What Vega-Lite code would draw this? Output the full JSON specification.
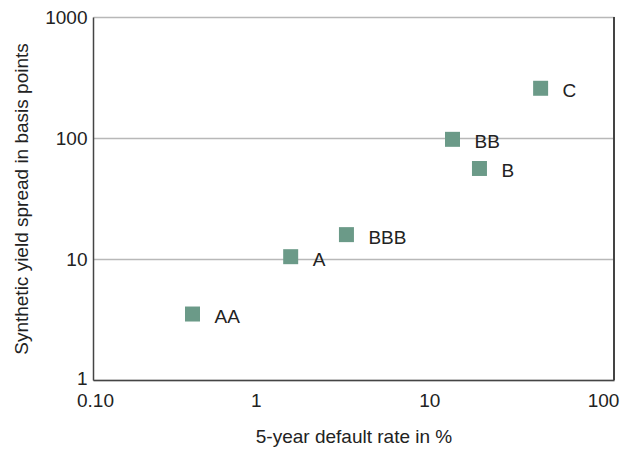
{
  "$schema": "https://vega.github.io/schema/vega-lite/v6.json",
  "width": 521,
  "height": 363,
  "autosize": {"type": "none"},
  "padding": {"left": 93, "top": 17, "right": 18, "bottom": 72},
  "background": "white",
  "config": {
    "view": {"stroke": null},
    "font": "Liberation Sans",
    "axis": {
      "labelFont": "Liberation Sans",
      "titleFont": "Liberation Sans",
      "labelFontSize": 19,
      "titleFontSize": 19,
      "titleFontWeight": "normal",
      "labelColor": "#222222",
      "titleColor": "#222222",
      "ticks": false,
      "domainColor": "#444444",
      "domainWidth": 1.5
    }
  },
  "data": {
    "values": [
      {"rating": "AA", "default": 0.374, "spread": 3.51},
      {"rating": "A", "default": 1.375, "spread": 10.45},
      {"rating": "BBB", "default": 2.88, "spread": 15.9},
      {"rating": "BB", "default": 11.75, "spread": 97.5},
      {"rating": "B", "default": 16.8, "spread": 56.0},
      {"rating": "C", "default": 37.8, "spread": 257.6}
    ]
  },
  "encoding": {
    "x": {
      "field": "default",
      "type": "quantitative",
      "scale": {"type": "log", "domain": [0.1, 100], "nice": false},
      "axis": {
        "title": "5-year default rate in %",
        "values": [0.1, 1, 10, 100],
        "labelExpr": "datum.value < 1 ? '0.10' : format(datum.value, 'd')",
        "grid": false,
        "labelFlush": false,
        "labelPadding": 11,
        "labelOffset": {"condition": {"test": "datum.value < 1", "value": 2}, "value": -11},
        "titlePadding": 17
      }
    },
    "y": {
      "field": "spread",
      "type": "quantitative",
      "scale": {"type": "log", "domain": [1, 1000], "nice": false},
      "axis": {
        "title": "Synthetic yield spread in basis points",
        "values": [1, 10, 100, 1000],
        "format": "d",
        "grid": true,
        "gridColor": "#b8b8b8",
        "gridWidth": 1.5,
        "labelPadding": 6,
        "labelFlush": false,
        "labelOffset": {"condition": {"test": "datum.value < 2", "value": -2}, "value": 0},
        "titlePadding": 13
      }
    }
  },
  "layer": [
    {
      "mark": {"type": "rule", "color": "#444444", "strokeWidth": 1.5},
      "encoding": {"x": {"datum": 100}, "y": {"datum": 1}, "y2": {"datum": 1000}}
    },
    {
      "mark": {"type": "square", "size": 225, "color": "#6b9a88", "opacity": 1, "filled": true}
    },
    {
      "mark": {"type": "text", "align": "left", "baseline": "middle", "dx": 22, "dy": 3, "fontSize": 19, "color": "#222222"},
      "encoding": {"text": {"field": "rating"}}
    }
  ]
}
